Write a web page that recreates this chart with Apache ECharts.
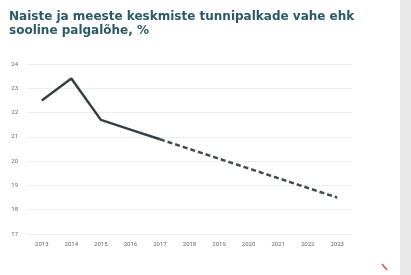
<!DOCTYPE html>
<html>
<head>
<meta charset="utf-8">
<script src="https://cdn.jsdelivr.net/npm/echarts@6/dist/echarts.min.js"></script>
<style>
html,body{margin:0;padding:0;background:#fff;}
#main{width:411px;height:275px;}
</style>
</head>
<body>
<div id="main"></div>
<script>
var years=['2013','2014','2015','2016','2017','2018','2019','2020','2021','2022','2023'];
var actual=[22.5,23.4,21.7,21.3,20.9,null,null,null,null,null,null]; //tegelik palgalõhe
var target=[null,null,null,null,20.9,null,null,null,null,null,18.5]; //siht
var yTicks=[17,18,19,20,21,22,23,24];

var myChart=echarts.init(document.getElementById('main'));
myChart.setOption({
	animation:false,
	title:{
		text:'Naiste ja meeste keskmiste tunnipalkade vahe ehk\nsooline palgalõhe, %',
		left:4,
		top:5,
		textStyle:{
			fontFamily:'DejaVu Sans',
			fontSize:12,
			fontWeight:'bold',
			color:'#2b5966',
			lineHeight:14
		}
	},
	grid:{left:27,right:59,top:64,bottom:41},
	xAxis:{
		type:'category',
		data:years,
		boundaryGap:true,
		axisLine:{show:false},
		axisTick:{show:false},
		axisLabel:{fontSize:6,color:'#666',margin:7,fontFamily:'Roboto'}
	},
	yAxis:{
		type:'value',
		min:yTicks[0],
		max:yTicks[yTicks.length-1],
		interval:1,
		axisLabel:{fontSize:6,color:'#666',margin:9,fontFamily:'Roboto'},
		splitLine:{lineStyle:{color:'#ececec',width:1}}
	},
	graphic:[
		{type:'rect',shape:{x:400,y:0,width:11,height:275},style:{fill:'#e9e9e9'}},
		{type:'line',shape:{x1:382,y1:264,x2:387,y2:270},style:{stroke:'#d9534f',lineWidth:1.5}}
	],
	series:[
		{
			type:'line',
			data:actual,
			symbol:'none',
			lineStyle:{color:'#383f46',width:2.5}
		},
		{
			type:'line',
			data:target,
			connectNulls:true,
			symbol:'none',
			lineStyle:{color:'#454a50',width:2.5,type:[5,3]}
		}
	]
});
</script>
</body>
</html>
